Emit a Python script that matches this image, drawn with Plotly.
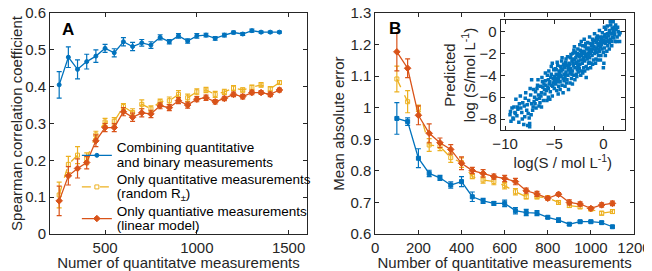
import plotly.graph_objects as go

# ---------------- Panel A data ----------------
a_x = list(range(250, 1451, 50))
a_blue = [0.405, 0.480, 0.447, 0.468, 0.483, 0.504, 0.492, 0.522, 0.509, 0.519, 0.513, 0.534, 0.522,
          0.538, 0.524, 0.538, 0.540, 0.531, 0.540, 0.547, 0.543, 0.552, 0.548, 0.548, 0.548]
a_blue_err = [0.036, 0.028, 0.026, 0.020, 0.017, 0.011, 0.011, 0.011, 0.011, 0.009, 0.009, 0.007, 0.006,
              0.006, 0.006, 0.006, 0.005, 0.005, 0.005, 0.004, 0.004, 0.004, 0.003, 0.003, 0.003]
a_yellow = [0.106, 0.189, 0.214, 0.204, 0.269, 0.304, 0.306, 0.346, 0.330, 0.352, 0.340, 0.359, 0.362,
            0.379, 0.370, 0.386, 0.391, 0.379, 0.386, 0.396, 0.391, 0.398, 0.405, 0.394, 0.411]
a_yellow_err = [0.035, 0.022, 0.023, 0.016, 0.010, 0.010, 0.010, 0.008, 0.010, 0.012, 0.008, 0.007, 0.010,
                0.010, 0.010, 0.008, 0.007, 0.008, 0.007, 0.007, 0.006, 0.006, 0.006, 0.006, 0.005]
a_red = [0.090, 0.158, 0.178, 0.194, 0.253, 0.289, 0.289, 0.332, 0.317, 0.329, 0.326, 0.348, 0.343,
         0.362, 0.350, 0.366, 0.370, 0.359, 0.368, 0.379, 0.373, 0.384, 0.384, 0.379, 0.391]
a_red_err = [0.040, 0.025, 0.026, 0.017, 0.016, 0.011, 0.011, 0.011, 0.011, 0.011, 0.010, 0.008, 0.008,
             0.008, 0.008, 0.007, 0.007, 0.006, 0.006, 0.006, 0.006, 0.006, 0.005, 0.006, 0.005]

# ---------------- Panel B data ----------------
b_x = list(range(100, 1101, 50))
b_blue = [0.966, 0.956, 0.840, 0.792, 0.778, 0.755, 0.766, 0.718, 0.705, 0.697, 0.697, 0.674, 0.668,
          0.666, 0.653, 0.644, 0.631, 0.639, 0.639, 0.636, 0.623]
b_blue_err = [0.050, 0.012, 0.030, 0.010, 0.008, 0.010, 0.016, 0.015, 0.008, 0.006, 0.010, 0.010, 0.010,
              0.008, 0.004, 0.007, 0.004, 0.004, 0.004, 0.004, 0.004]
b_yellow = [1.091, 1.019, 0.998, 0.882, 0.877, 0.842, 0.826, 0.782, 0.771, 0.766, 0.753, 0.734, 0.718,
            0.718, 0.715, 0.700, 0.690, 0.686, 0.679, 0.666, 0.671]
b_yellow_err = [0.041, 0.035, 0.010, 0.020, 0.013, 0.015, 0.015, 0.007, 0.010, 0.010, 0.010, 0.010, 0.007,
                0.007, 0.006, 0.006, 0.006, 0.006, 0.006, 0.006, 0.006]
b_red = [1.177, 1.125, 0.976, 0.919, 0.889, 0.868, 0.824, 0.801, 0.792, 0.782, 0.776, 0.766, 0.737,
         0.727, 0.713, 0.726, 0.700, 0.695, 0.681, 0.692, 0.697]
b_red_err = [0.060, 0.030, 0.030, 0.030, 0.015, 0.015, 0.020, 0.010, 0.012, 0.008, 0.010, 0.010, 0.008,
             0.008, 0.006, 0.005, 0.008, 0.007, 0.005, 0.007, 0.007]

# ---------------- Inset scatter (measured vs predicted) ----------------
inset_pts = [
    (-9.5, -7.6), (-9.4, -8.2), (-9.3, -7.0), (-9.2, -7.9), (-9.1, -6.9), (-9.0, -7.4), (-9.45, -7.3), (-9.15, -8.0),
    (-8.9, -6.2), (-8.8, -7.7), (-8.7, -7.1), (-8.6, -8.3), (-8.55, -6.6), (-8.95, -7.5), (-8.75, -6.9),
    (-8.45, -5.9), (-8.3, -7.4), (-8.2, -6.5), (-8.1, -8.5), (-8.0, -7.8), (-8.4, -7.0), (-8.25, -8.0), (-8.05, -6.8),
    (-7.9, -5.6), (-7.8, -7.2), (-7.7, -8.6), (-7.6, -6.3), (-7.55, -7.9), (-7.95, -6.1), (-7.75, -6.7), (-7.5, -8.4), (-7.65, -7.5),
    (-7.4, -5.8), (-7.3, -6.6), (-7.2, -7.2), (-7.1, -5.3), (-7.0, -6.0), (-7.35, -7.6), (-7.15, -6.9), (-7.45, -5.2), (-7.05, -6.4),
    (-7.3, -4.4), (-7.5, -8.7),
    (-6.9, -5.5), (-6.8, -6.2), (-6.7, -4.9), (-6.6, -5.8), (-6.55, -6.8), (-6.95, -6.6), (-6.75, -5.2), (-6.65, -4.4), (-6.85, -7.0), (-6.5, -6.1),
    (-6.4, -5.0), (-6.3, -5.6), (-6.2, -4.6), (-6.1, -6.3), (-6.0, -5.3), (-6.45, -6.5), (-6.25, -4.2), (-6.35, -5.9), (-6.15, -5.1), (-6.05, -4.8), (-6.3, -6.9),
    (-5.9, -4.5), (-5.8, -5.4), (-5.7, -4.0), (-5.6, -6.0), (-5.5, -4.8), (-5.95, -5.7), (-5.85, -4.9), (-5.75, -6.3), (-5.65, -5.1), (-5.55, -3.6), (-5.9, -3.8), (-5.6, -4.4),
    (-5.45, -4.6), (-5.4, -5.5), (-5.3, -3.9), (-5.25, -4.9), (-5.2, -5.9), (-5.1, -4.3), (-5.05, -3.5), (-5.0, -5.2), (-5.35, -4.2), (-5.15, -5.0), (-5.45, -6.2), (-5.3, -3.2), (-5.1, -4.7), (-5.2, -2.9),
    (-4.95, -4.1), (-4.9, -3.4), (-4.85, -4.8), (-4.8, -3.9), (-4.75, -5.4), (-4.7, -4.4), (-4.65, -3.1), (-4.6, -4.0), (-4.55, -5.0), (-4.5, -3.6), (-4.9, -4.6), (-4.7, -2.8), (-4.6, -5.7), (-4.8, -3.5), (-4.55, -4.3),
    (-4.45, -3.8), (-4.4, -4.6), (-4.35, -3.2), (-4.3, -4.1), (-4.25, -2.7), (-4.2, -4.9), (-4.15, -3.5), (-4.1, -4.3), (-4.05, -3.0), (-4.0, -3.9), (-4.4, -5.3), (-4.3, -3.6), (-4.2, -2.4), (-4.1, -5.6), (-4.0, -4.5), (-4.35, -4.0),
    (-3.95, -3.3), (-3.9, -4.2), (-3.85, -2.8), (-3.8, -3.7), (-3.75, -4.7), (-3.7, -3.1), (-3.65, -2.3), (-3.6, -4.0), (-3.55, -3.5), (-3.5, -2.9), (-3.9, -5.0), (-3.8, -2.5), (-3.7, -4.4), (-3.6, -3.3), (-3.55, -5.3), (-3.85, -3.9),
    (-3.45, -3.0), (-3.4, -3.8), (-3.35, -2.4), (-3.3, -3.4), (-3.25, -4.3), (-3.2, -2.7), (-3.15, -3.6), (-3.1, -2.0), (-3.05, -3.1), (-3.0, -4.0), (-3.4, -4.7), (-3.3, -2.1), (-3.2, -3.9), (-3.1, -2.9), (-3.0, -1.7), (-3.45, -3.5), (-3.15, -4.8),
    (-2.95, -2.6), (-2.9, -3.3), (-2.85, -1.9), (-2.8, -2.9), (-2.75, -3.9), (-2.7, -2.2), (-2.65, -3.5), (-2.6, -1.6), (-2.55, -2.7), (-2.5, -3.1), (-2.9, -4.4), (-2.8, -2.4), (-2.7, -4.1), (-2.6, -2.0), (-2.55, -3.7), (-2.95, -1.4),
    (-2.45, -2.3), (-2.4, -3.0), (-2.35, -1.7), (-2.3, -2.6), (-2.25, -3.6), (-2.2, -1.9), (-2.15, -2.9), (-2.1, -1.3), (-2.05, -2.4), (-2.0, -3.3), (-2.4, -1.2), (-2.3, -4.0), (-2.2, -2.2), (-2.1, -3.8), (-2.0, -1.8), (-2.45, -3.4), (-2.25, -0.9),
    (-1.95, -2.0), (-1.9, -2.7), (-1.85, -1.4), (-1.8, -2.3), (-1.75, -3.2), (-1.7, -1.6), (-1.65, -2.5), (-1.6, -1.0), (-1.55, -2.0), (-1.5, -2.9), (-1.9, -3.6), (-1.8, -1.1), (-1.7, -2.1), (-1.6, -3.4), (-1.55, -1.5), (-1.95, -0.7), (-1.75, -4.2),
    (-1.45, -1.7), (-1.4, -2.4), (-1.35, -1.1), (-1.3, -2.0), (-1.25, -2.9), (-1.2, -1.3), (-1.15, -2.2), (-1.1, -0.7), (-1.05, -1.6), (-1.0, -2.6), (-1.4, -0.5), (-1.3, -3.3), (-1.2, -1.8), (-1.1, -3.0), (-1.05, -1.0), (-1.45, -2.8),
    (-0.95, -1.4), (-0.9, -2.0), (-0.85, -0.8), (-0.8, -1.7), (-0.75, -2.5), (-0.7, -1.0), (-0.65, -1.9), (-0.6, -0.4), (-0.55, -1.3), (-0.5, -2.2), (-0.9, -0.2), (-0.8, -2.9), (-0.7, -1.5), (-0.6, -2.6), (-0.55, -0.7),
    (-0.45, -1.1), (-0.4, -1.8), (-0.35, -0.5), (-0.3, -1.4), (-0.25, -2.2), (-0.2, -0.7), (-0.15, -1.6), (-0.1, -0.1), (-0.05, -1.0), (0.0, -1.9), (-0.4, 0.1), (-0.3, -2.6), (-0.2, -1.2), (-0.1, -0.5), (0.0, -3.3),
    (0.05, -0.8), (0.1, -1.5), (0.15, -0.3), (0.2, -1.1), (0.25, 0.2), (0.3, -0.6), (0.35, -1.8), (0.4, -0.2), (0.45, -1.3), (0.1, 0.4), (0.2, -2.2), (0.3, -0.9), (0.4, 0.5), (0.05, -2.9),
    (0.55, -0.4), (0.6, -1.0), (0.65, 0.1), (0.7, -0.7), (0.75, 0.6), (0.8, -0.2), (0.85, -1.3), (0.9, 0.3), (0.95, -0.5), (0.6, -1.6), (0.7, 0.9), (0.85, -0.9), (0.9, 1.0),
    (1.0, 0.1), (1.05, -0.6), (1.1, 0.4), (1.15, -0.3), (1.2, -0.9), (1.3, 0.2), (1.4, -0.5), (1.0, 0.9), (1.35, -0.9), (1.25, 0.6),
    (1.5, 0.0), (1.6, -0.3), (1.7, -0.1), (1.65, -0.9), (1.45, 0.4),
    (-4.3, -3.3), (-3.9, -3.0), (-3.5, -3.2), (-3.1, -2.5), (-2.7, -2.8), (-2.3, -2.1), (-1.9, -1.9), (-1.5, -2.3),
    (-1.1, -1.2), (-0.7, -0.6), (-0.3, -0.9), (0.2, -0.5), (0.6, -0.1), (-5.6, -5.2), (-5.0, -4.5), (-4.6, -4.6),
    (-2.0, -2.6), (-2.6, -3.2), (-3.3, -3.7), (-4.8, -4.3), (-1.3, -1.6), (-0.5, -1.6), (0.5, -0.8), (1.1, -0.1),
]
inset_x = [p[0] for p in inset_pts]
inset_y = [p[1] for p in inset_pts]

legend_names = [
    ["Combining quantitative", "and binary measurements"],
    ["Only quantitative measurements", "(random R<sub>±</sub>)"],
    ["Only quantiative measurements", "(linear model)"],
]

BLUE = "#0072BD"
RED = "#D95319"
YELLOW = "#EDB120"
AX = "#262626"
FONT = "Liberation Sans, Arial, sans-serif"


def legend_label(lines):
    # larger glyphs on a tight (11px-based) line pitch, as in the original legend
    return "<br>".join('<span style="font-size:13.5px">%s</span>' % s for s in lines)


fig = go.Figure()


def add_series(x, y, err, color, dash, symbol, size, name, xa, ya, show):
    fig.add_trace(go.Scatter(
        x=x, y=y, mode="lines+markers", name=name, showlegend=show,
        xaxis=xa, yaxis=ya,
        line=dict(color=color, width=1.3, dash=dash),
        marker=dict(color=color, symbol=symbol, size=size, line=dict(color=color, width=1)),
        error_y=dict(type="data", array=err, visible=True, color=color, thickness=1.2, width=2.5),
    ))


add_series(a_x, a_blue, a_blue_err, BLUE, "solid", "circle", 4, legend_label(legend_names[0]), "x", "y", True)
add_series(a_x, a_yellow, a_yellow_err, YELLOW, "dash", "square-open", 4, legend_label(legend_names[1]), "x", "y", True)
add_series(a_x, a_red, a_red_err, RED, "solid", "diamond", 5, legend_label(legend_names[2]), "x", "y", True)

add_series(b_x, b_blue, b_blue_err, BLUE, "solid", "square", 4, "b1", "x2", "y2", False)
add_series(b_x, b_yellow, b_yellow_err, YELLOW, "dash", "square-open", 4, "b2", "x2", "y2", False)
add_series(b_x, b_red, b_red_err, RED, "solid", "diamond", 5, "b3", "x2", "y2", False)

fig.add_trace(go.Scatter(
    x=inset_x, y=inset_y, mode="markers", showlegend=False, xaxis="x3", yaxis="y3",
    marker=dict(color=BLUE, symbol="square", size=3.5, line=dict(width=0)),
))

axis_common = dict(
    showline=True, linecolor=AX, linewidth=1, mirror="ticks", ticks="inside", ticklen=4,
    tickcolor=AX, tickfont=dict(family=FONT, size=15, color=AX), showgrid=False, zeroline=False,
    automargin=False, ticklabeloverflow="allow",
)

a_xticks = [500, 1000, 1500]
a_yticks = [0, 0.1, 0.2, 0.3, 0.4, 0.5, 0.6]
a_ytext = ["0", "0.1", "0.2", "0.3", "0.4", "0.5", "0.6"]
b_xticks = [0, 200, 400, 600, 800, 1000, 1200]
b_yticks = [0.6, 0.7, 0.8, 0.9, 1.0, 1.1, 1.2, 1.3]
b_ytext = ["0.6", "0.7", "0.8", "0.9", "1", "1.1", "1.2", "1.3"]
i_xticks = [-10, -5, 0]
i_yticks = [-8, -6, -4, -2, 0]

# page has an 8px body margin, so the figure is offset by 8px; compensate
fig.update_layout(
    width=644, height=263,
    margin=dict(l=42, r=18, t=5, b=37),
    paper_bgcolor="white", plot_bgcolor="white",
    font=dict(family=FONT, color=AX, size=15),
    xaxis=dict(domain=[0, 0.440], range=[200, 1600], tickvals=a_xticks, anchor="y",
               title=dict(text="Numer of quantitatve measurements", standoff=2, font=dict(size=15)),
               **axis_common),
    yaxis=dict(domain=[0, 1], range=[0, 0.6], tickvals=a_yticks, ticktext=a_ytext, anchor="x",
               title=dict(text="Spearman correlation coefficient", standoff=4, font=dict(size=15)),
               **axis_common),
    xaxis2=dict(domain=[0.557, 1], range=[0, 1200], tickvals=b_xticks, anchor="y2",
                title=dict(text="Number of quantitative measurements", standoff=2, font=dict(size=15)),
                **axis_common),
    yaxis2=dict(domain=[0, 1], range=[0.6, 1.3], tickvals=b_yticks, ticktext=b_ytext, anchor="x2",
                title=dict(text="Mean absolute error", standoff=2, font=dict(size=15)),
                **axis_common),
    xaxis3=dict(domain=[0.7717, 0.9846], range=[-10.45, 2.2], tickvals=i_xticks, anchor="y3",
                title=dict(text="log(S / mol L<sup>-1</sup>)", standoff=3, font=dict(size=15)),
                **axis_common),
    yaxis3=dict(domain=[0.4706, 0.968], range=[-9, 1.05], tickvals=i_yticks, anchor="x3",
                title=dict(text="Predicted<br>log (S/mol L<sup>-1</sup>)", standoff=0, font=dict(size=15)),
                **axis_common),
    legend=dict(x=0.046, y=-0.025, xanchor="left", yanchor="bottom", bgcolor="rgba(0,0,0,0)",
                font=dict(family=FONT, size=11, color="black"), tracegroupgap=0, itemwidth=30),
    annotations=[
        dict(text="<b>A</b>", xref="x domain", yref="y domain", x=0.04, y=0.925, xanchor="left",
             yanchor="middle", showarrow=False, font=dict(family=FONT, size=17, color="black")),
        dict(text="<b>B</b>", xref="x2 domain", yref="y2 domain", x=0.045, y=0.93, xanchor="left",
             yanchor="middle", showarrow=False, font=dict(family=FONT, size=17, color="black")),
    ],
)

fig.write_html("out.html")
